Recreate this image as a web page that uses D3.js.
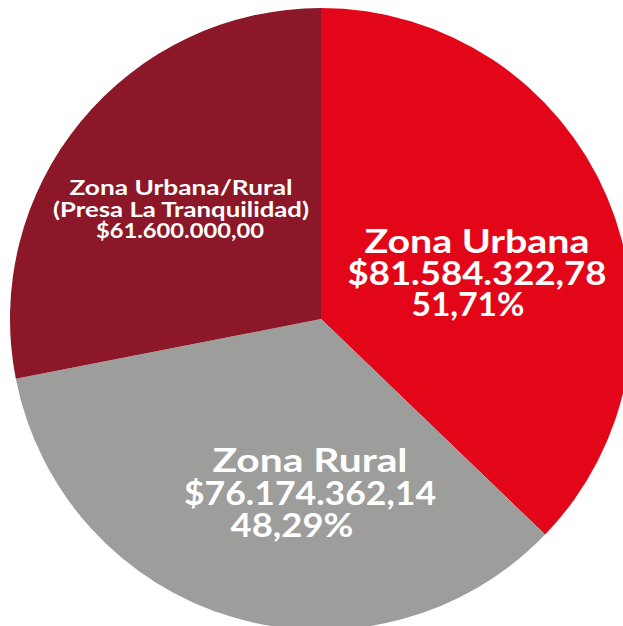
<!DOCTYPE html>
<html>
<head>
<meta charset="utf-8">
<script src="https://cdn.jsdelivr.net/npm/d3@7"></script>
<style>
  html, body { margin: 0; padding: 0; background: #ffffff; overflow: hidden; }
  svg { display: block; }
  text { font-family: "Lato", "Open Sans", sans-serif; font-weight: 700; fill: #ffffff; }
</style>
</head>
<body>
<svg id="chart" width="623" height="626"></svg>
<script>
// ---- data ----
const categories = ["Zona Urbana", "Zona Rural", "Zona Urbana/Rural (Presa La Tranquilidad)"];
const values = [81584322.78, 76174362.14, 61600000.00];
const labelLines = [
  ["Zona Urbana", "$81.584.322,78", "51,71%"],
  ["Zona Rural", "$76.174.362,14", "48,29%"],
  ["Zona Urbana/Rural", "(Presa La Tranquilidad)", "$61.600.000,00"]
];

// ---- styling / layout ----
const colors = ["#e30619", "#9d9d9c", "#8b1728"];
const W = 623, H = 626;
const cx = 321, cy = 319, R = 311;
// label anchors relative to centre, line spacing, font-size, per-line x shift & target width
const labelLayout = [
  { x: 156, y: -66, lh: 31.5, fs: 33, dx: [0, 0, -9], w: [225, 259, 113] },
  { x: -11, y: 153, lh: 32.5, fs: 33, dx: [0, 0, -18], w: [195, 252, 123] },
  { x: -140, y: -124, lh: 21.5, fs: 21, dx: [0, 0, -1], w: [223, 256, 168] }
];

const svg = d3.select("#chart");
const g = svg.append("g").attr("transform", `translate(${cx},${cy})`);

const data = categories.map((c, i) => ({ cat: c, value: values[i], i }));
const pie = d3.pie().sort(null).value(d => d.value).startAngle(0).endAngle(2 * Math.PI);
const arc = d3.arc().innerRadius(0).outerRadius(R);
const color = d3.scaleOrdinal().domain(categories).range(colors);

const arcs = pie(data);

g.selectAll("path.slice")
  .data(arcs)
  .join("path")
  .attr("class", "slice")
  .attr("d", arc)
  .attr("fill", d => color(d.data.cat));

const labels = g.selectAll("g.label")
  .data(arcs)
  .join("g")
  .attr("class", "label")
  .attr("transform", d => {
    const L = labelLayout[d.data.i];
    return `translate(${L.x},${L.y})`;
  });

labels.each(function(d) {
  const L = labelLayout[d.data.i];
  const lines = labelLines[d.data.i];
  d3.select(this).selectAll("text")
    .data(lines)
    .join("text")
    .attr("x", (t, j) => L.dx[j])
    .attr("y", (t, j) => j * L.lh)
    .attr("text-anchor", "middle")
    .attr("font-size", L.fs)
    .attr("textLength", (t, j) => L.w[j])
    .attr("lengthAdjust", "spacingAndGlyphs")
    .text(t => t);
});
</script>
</body>
</html>
